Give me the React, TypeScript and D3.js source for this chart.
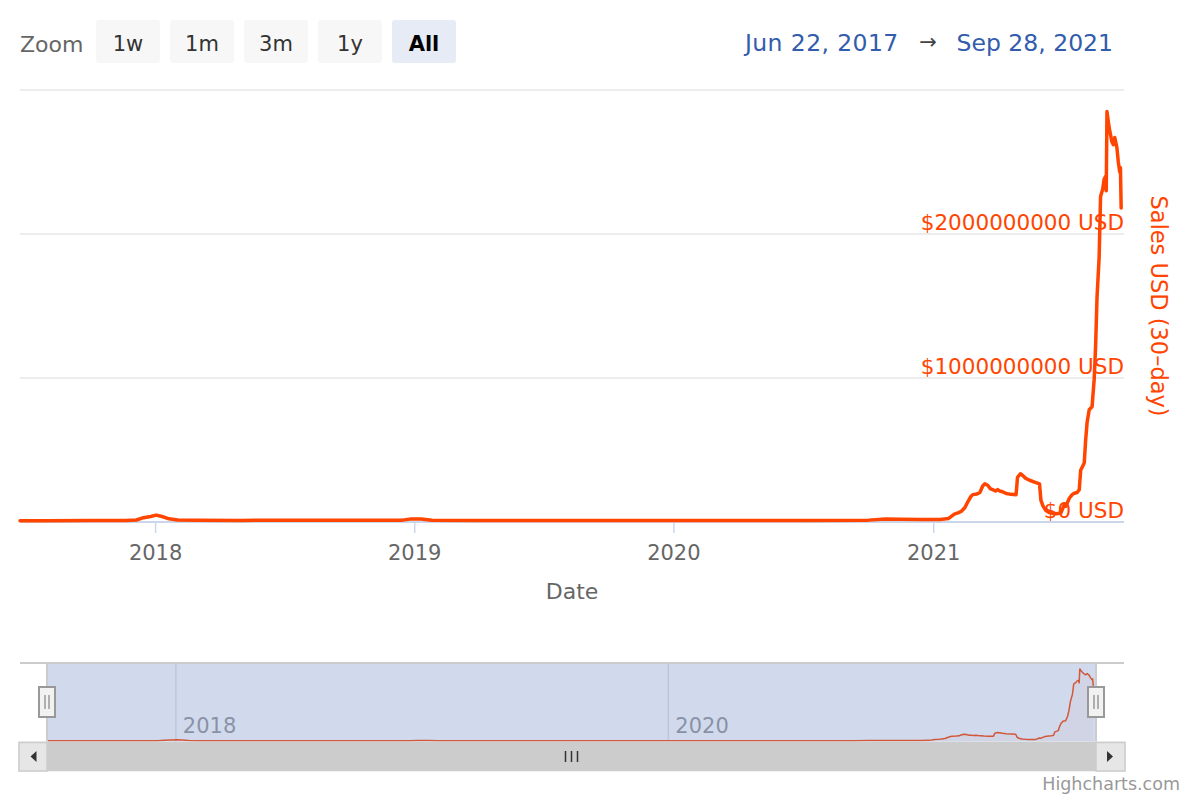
import React from 'react';
import * as d3 from 'd3';

// ---- Data (30-day sales, millions of USD) ----
const salesDates = [
  '2017-06-24', '2017-08-01', '2017-10-01', '2017-11-20', '2017-12-05', '2017-12-15', '2017-12-25',
  '2018-01-02', '2018-01-10', '2018-01-20', '2018-02-01', '2018-03-01', '2018-05-01', '2018-08-01',
  '2018-10-01', '2018-12-15', '2018-12-25', '2019-01-10', '2019-01-25', '2019-04-01', '2019-07-01',
  '2019-10-01', '2020-01-01', '2020-04-01', '2020-07-01', '2020-10-01', '2020-10-25', '2020-11-15',
  '2020-12-15', '2021-01-10', '2021-01-22', '2021-01-30', '2021-02-05', '2021-02-09', '2021-02-14',
  '2021-02-18', '2021-02-22', '2021-02-25', '2021-03-03', '2021-03-07', '2021-03-11', '2021-03-14',
  '2021-03-18', '2021-03-22', '2021-03-25', '2021-03-29', '2021-04-01', '2021-04-04', '2021-04-08',
  '2021-04-13', '2021-04-20', '2021-04-27', '2021-04-29', '2021-05-03', '2021-05-06', '2021-05-10',
  '2021-05-16', '2021-05-24', '2021-05-30', '2021-06-01', '2021-06-04', '2021-06-08', '2021-06-13',
  '2021-06-17', '2021-06-23', '2021-06-29', '2021-07-04', '2021-07-06', '2021-07-11', '2021-07-15',
  '2021-07-18', '2021-07-22', '2021-07-25', '2021-07-27', '2021-08-01', '2021-08-03', '2021-08-05',
  '2021-08-08', '2021-08-12', '2021-08-15', '2021-08-17', '2021-08-19', '2021-08-22', '2021-08-24',
  '2021-08-27', '2021-08-29', '2021-08-31', '2021-09-01', '2021-09-02', '2021-09-05', '2021-09-09',
  '2021-09-11', '2021-09-13', '2021-09-16', '2021-09-18', '2021-09-20', '2021-09-21', '2021-09-22',
];
const salesValuesM = [
  8, 9, 10, 10, 14, 30, 38,
  48, 38, 22, 14, 13, 11, 13,
  12, 13, 20, 21, 12, 10, 11,
  10, 10, 11, 11, 13, 20, 19,
  17, 18, 25, 55, 65, 75, 100,
  140, 175, 190, 195, 205, 250, 265,
  255, 230, 225, 215, 225, 215, 210,
  198, 192, 190, 310, 335, 325, 305,
  290, 275, 265, 150, 110, 80, 65,
  60, 58, 62, 120, 110, 165, 190,
  200, 205, 225, 360, 410, 570, 690,
  780, 800, 990, 1220, 1560, 1840, 2260,
  2310, 2380, 2400, 2300, 2850, 2740, 2640,
  2620, 2670, 2600, 2500, 2430, 2460, 2180,
];

const xDomain = ['2017-06-24', '2021-09-26'];
const yTicks = [0, 1e9, 2e9, 3e9];
const yLabelTicks = [0, 1e9, 2e9];
const xTickYears = ['2018', '2019', '2020', '2021'];
const navTickYears = ['2018', '2020'];
const zoomButtons = ['1w', '1m', '3m', '1y', 'All'];
const selectedButton = 'All';
const rangeFrom = 'Jun 22, 2017';
const rangeTo = 'Sep 28, 2021';

const FONT = '"DejaVu Sans", "Lucida Grande", Arial, sans-serif';
const LINE = '#ff4500';

export default function App() {
  const parse = d3.timeParse('%Y-%m-%d');
  const data = salesDates.map((d, i) => ({ date: parse(d) as Date, value: salesValuesM[i] * 1e6 }));

  const plotL = 20, plotR = 1124, plotT = 90, plotB = 522;
  const x = d3.scaleTime().domain(xDomain.map(d => parse(d) as Date)).range([plotL, plotR]);
  const y = d3.scaleLinear().domain([0, 3e9]).range([plotB, plotT]);

  const navL = 47, navR = 1096, navT = 663, navB = 742;
  const nx = d3.scaleTime().domain(xDomain.map(d => parse(d) as Date)).range([navL, navR]);
  const ny = d3.scaleLinear().domain([0, d3.max(data, d => d.value) as number]).range([741, 669]);

  const line = d3.line<{ date: Date; value: number }>().x(d => x(d.date)).y(d => y(d.value));
  const navLine = d3.line<{ date: Date; value: number }>().x(d => nx(d.date)).y(d => ny(d.value));
  const navArea = d3.area<{ date: Date; value: number }>().x(d => nx(d.date)).y0(741).y1(d => ny(d.value));

  const yearDate = (yr: string) => parse(`${yr}-01-01`) as Date;

  const handle = (cx: number) => (
    <g>
      <rect x={cx - 8} y={687} width={16} height={30} fill="#f2f2f2" stroke="#999" strokeWidth={2} />
      <line x1={cx - 2} x2={cx - 2} y1={695} y2={709} stroke="#999" strokeWidth={1.5} />
      <line x1={cx + 2} x2={cx + 2} y1={695} y2={709} stroke="#999" strokeWidth={1.5} />
    </g>
  );

  return (
    <svg width={1200} height={800} style={{ position: 'absolute', left: 0, top: 0, display: 'block' }} fontFamily={FONT}>
      <rect x={0} y={0} width={1200} height={800} fill="#fff" />

      {/* Range selector */}
      <text x={20} y={52} fontSize={22} fill="#666">Zoom</text>
      {zoomButtons.map((b, i) => {
        const bx = 96 + i * 74;
        const sel = b === selectedButton;
        return (
          <g key={b}>
            <rect x={bx} y={20} width={64} height={43} rx={3} fill={sel ? '#e6ebf5' : '#f7f7f7'} />
            <text x={bx + 32} y={51} textAnchor="middle" fontSize={21} fontWeight={sel ? 'bold' : 'normal'} fill={sel ? '#000' : '#333'}>{b}</text>
          </g>
        );
      })}
      <text x={1113} y={51} textAnchor="end" fontSize={23.5} fill="#335cad">{rangeTo}</text>
      <text x={928} y={49} textAnchor="middle" fontSize={21} fill="#444">→</text>
      <text x={745} y={51} fontSize={23.5} fill="#335cad" letterSpacing={0.4}>{rangeFrom}</text>

      {/* Grid */}
      {yTicks.map(t => (
        <line key={t} x1={plotL} x2={plotR} y1={y(t)} y2={y(t)} stroke="#e6e6e6" strokeWidth={1.5} />
      ))}
      {/* X axis */}
      <line x1={plotL} x2={plotR} y1={plotB} y2={plotB} stroke="#ccd6eb" strokeWidth={2} />
      {xTickYears.map(yr => {
        const tx = x(yearDate(yr));
        return (
          <g key={yr}>
            <line x1={tx} x2={tx} y1={plotB} y2={plotB + 11} stroke="#ccd6eb" strokeWidth={1.5} />
            <text x={tx} y={560} textAnchor="middle" fontSize={21} fill="#666">{yr}</text>
          </g>
        );
      })}
      <text x={(plotL + plotR) / 2} y={599} textAnchor="middle" fontSize={22} fill="#666">Date</text>

      {/* Series */}
      <path d={line(data) || ''} fill="none" stroke={LINE} strokeWidth={3.5} strokeLinejoin="round" strokeLinecap="round" />

      {/* Y labels (drawn over series, like Highcharts) */}
      {yLabelTicks.map(t => (
        <text key={t} x={plotR} y={y(t) - 4} textAnchor="end" fontSize={21.5} fill={LINE}>{`$${t} USD`}</text>
      ))}
      <text transform={`translate(1151, ${(plotT + plotB) / 2}) rotate(90)`} textAnchor="middle" fontSize={22.5} fill={LINE}>Sales USD (30–day)</text>

      {/* Navigator */}
      {navTickYears.map(yr => {
        const tx = nx(yearDate(yr));
        return (
          <g key={yr}>
            <line x1={tx} x2={tx} y1={navT} y2={navB} stroke="#e6e6e6" strokeWidth={1.5} />
            <text x={tx + 7} y={733} fontSize={21} fill="#999">{yr}</text>
          </g>
        );
      })}
      <path d={navArea(data) || ''} fill={LINE} fillOpacity={0.05} />
      <path d={navLine(data) || ''} fill="none" stroke={LINE} strokeWidth={1.5} strokeLinejoin="round" />
      <rect x={navL} y={navT} width={navR - navL} height={navB - navT} fill="rgba(102,133,194,0.3)" />
      <path d={`M${plotL},${navT} L${plotR},${navT} M${navL},${navT} L${navL},${navB} M${navR},${navT} L${navR},${navB}`} stroke="#cccccc" strokeWidth={2} fill="none" />

      {/* Scrollbar */}
      <rect x={plotL - 1} y={742} width={plotR - plotL + 2} height={29} fill="#f2f2f2" stroke="#e6e6e6" strokeWidth={1} />
      <rect x={navL} y={742} width={navR - navL} height={29} fill="#cccccc" />
      <line x1={(navL + navR) / 2 - 6} x2={(navL + navR) / 2 - 6} y1={751} y2={762} stroke="#333" strokeWidth={1.5} />
      <line x1={(navL + navR) / 2} x2={(navL + navR) / 2} y1={751} y2={762} stroke="#333" strokeWidth={1.5} />
      <line x1={(navL + navR) / 2 + 6} x2={(navL + navR) / 2 + 6} y1={751} y2={762} stroke="#333" strokeWidth={1.5} />
      <rect x={plotL - 1} y={742.5} width={navL - plotL + 1} height={28.5} fill="#e6e6e6" stroke="#cccccc" strokeWidth={1.5} />
      <path d={`M${(plotL + navL) / 2 + 3},${751} L${(plotL + navL) / 2 - 3},${756.5} L${(plotL + navL) / 2 + 3},${762} Z`} fill="#333" />
      <rect x={navR} y={742.5} width={plotR - navR + 1} height={28.5} fill="#e6e6e6" stroke="#cccccc" strokeWidth={1.5} />
      <path d={`M${(navR + plotR) / 2 - 3},${751} L${(navR + plotR) / 2 + 3},${756.5} L${(navR + plotR) / 2 - 3},${762} Z`} fill="#333" />

      {handle(navL)}
      {handle(navR)}

      <text x={1180} y={790} textAnchor="end" fontSize={17.5} fill="#999">Highcharts.com</text>
    </svg>
  );
}
